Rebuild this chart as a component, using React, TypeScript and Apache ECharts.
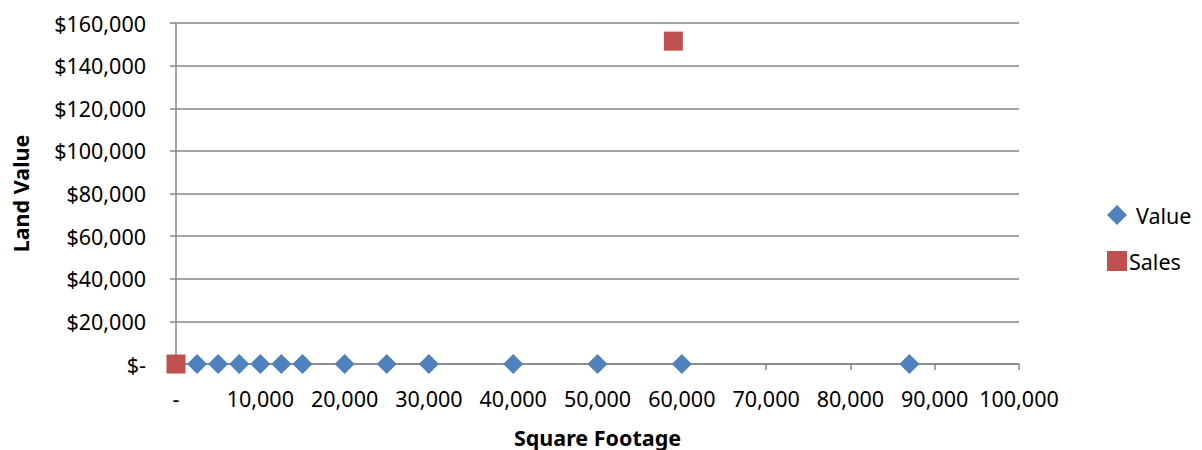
import React, { useEffect, useRef } from "react";
import * as echarts from "echarts";

const valueX = [2500, 5000, 7500, 10000, 12500, 15000, 20000, 25000, 30000, 40000, 50000, 60000, 87000];
const valueY = [0, 0, 0, 0, 0, 0, 0, 0, 0, 0, 0, 0, 0];
const salesX = [0, 59000];
const salesY = [0, 151500];

const FONT = "'Noto Sans', sans-serif";
const FS = 21.5;

export default function App() {
  const ref = useRef<HTMLDivElement>(null);
  useEffect(() => {
    document.body.style.margin = "0";
    if (!ref.current) return;
    const chart = echarts.init(ref.current, undefined, { renderer: "svg" });
    const fmtNum = (v: number) => v.toLocaleString("en-US");
    chart.setOption({
      animation: false,
      textStyle: { fontFamily: FONT },
      grid: { left: 176, right: 183, top: 23, bottom: 86, containLabel: false, outerBoundsMode: "none" },
      legend: {
        orient: "vertical",
        left: 1107,
        top: 204,
        padding: 0,
        itemGap: 24,
        itemWidth: 20,
        itemHeight: 20,
        textStyle: { fontSize: FS, color: "#000", fontFamily: FONT, padding: [0, 0, 0, -3] },
        data: [
          { name: "Value", icon: "diamond", textStyle: { padding: [0, 0, 0, 4] } },
          { name: "Sales", icon: "rect" },
        ],
      },
      xAxis: {
        type: "value",
        min: 0,
        max: 100000,
        interval: 10000,
        name: "Square Footage",
        nameLocation: "middle",
        nameGap: 62,
        nameTextStyle: { fontSize: FS, fontWeight: "bold", color: "#000", fontFamily: FONT },
        axisLine: { show: true, lineStyle: { color: "#868686", width: 1.5 } },
        axisTick: { show: true, length: 6, lineStyle: { color: "#868686", width: 1.5 } },
        splitLine: { show: false },
        axisLabel: {
          fontSize: FS,
          color: "#000",
          margin: 23,
          fontFamily: FONT,
          formatter: (v: number) => (v === 0 ? "-" : fmtNum(v)),
        },
      },
      yAxis: {
        type: "value",
        min: 0,
        max: 160000,
        interval: 20000,
        name: "Land Value",
        nameLocation: "middle",
        nameGap: 145,
        nameRotate: 90,
        nameTextStyle: { fontSize: FS, fontWeight: "bold", color: "#000", fontFamily: FONT },
        axisLine: { show: true, lineStyle: { color: "#868686", width: 1.5 } },
        axisTick: { show: true, length: 6, lineStyle: { color: "#868686", width: 1.5 } },
        splitLine: { show: true, lineStyle: { color: "#868686", width: 1.5 } },
        axisLabel: {
          fontSize: FS,
          color: "#000",
          margin: 30,
          fontFamily: FONT,
          formatter: (v: number) => (v === 0 ? "$-" : "$" + fmtNum(v)),
        },
      },
      series: [
        {
          name: "Value",
          type: "scatter",
          symbol: "diamond",
          symbolSize: 20,
          itemStyle: { color: "#4F81BD", opacity: 1 },
          data: valueX.map((x, i) => [x, valueY[i]]),
        },
        {
          name: "Sales",
          type: "scatter",
          symbol: "rect",
          symbolSize: 19,
          itemStyle: { color: "#C0504D", opacity: 1 },
          data: salesX.map((x, i) => [x, salesY[i]]),
        },
      ],
    });
    return () => chart.dispose();
  }, []);
  return <div ref={ref} style={{ width: 1202, height: 450 }} />;
}
